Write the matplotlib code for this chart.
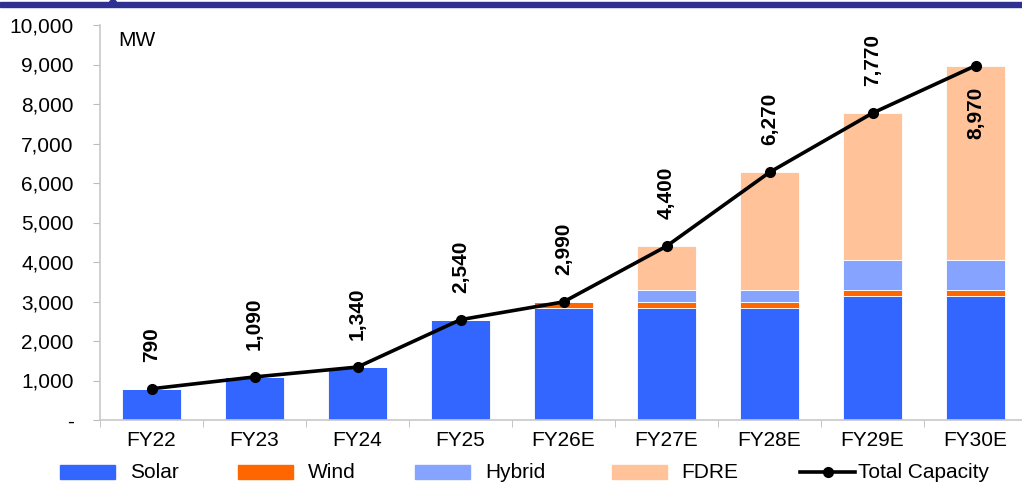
import matplotlib
matplotlib.use("Agg")
import matplotlib.pyplot as plt
from matplotlib.patches import Rectangle, Ellipse
from matplotlib.lines import Line2D
import numpy as np

plt.rcParams['font.family'] = ['Liberation Sans', 'DejaVu Sans']

years = ["FY22", "FY23", "FY24", "FY25", "FY26E", "FY27E", "FY28E", "FY29E", "FY30E"]
solar = [790, 1090, 1340, 2540, 2840, 2840, 2840, 3140, 3140]
wind = [0, 0, 0, 0, 150, 150, 150, 150, 150]
hybrid = [0, 0, 0, 0, 0, 300, 300, 750, 750]
fdre = [0, 0, 0, 0, 0, 1110, 2980, 3730, 4930]
total = [790, 1090, 1340, 2540, 2990, 4400, 6270, 7770, 8970]

c_solar = "#3366FF"
c_wind = "#FF6600"
c_hybrid = "#85A3FF"
c_fdre = "#FFC299"
navy = "#2E3192"

FS = 15

W, H = 1022, 482
fig = plt.figure(figsize=(W / 100, H / 100), dpi=100)
ax = fig.add_axes([100 / W, 1 - 420 / H, 927 / W, 395 / H])

x = np.arange(len(years))
bw = 0.57
edge = dict(edgecolor="white", linewidth=0.6)
s = np.array(solar, float)
w = np.array(wind, float)
h = np.array(hybrid, float)
f = np.array(fdre, float)
ax.bar(x, s, bw, color=c_solar, **edge)
ax.bar(x, w, bw, bottom=s, color=c_wind, **edge)
ax.bar(x, h, bw, bottom=s + w, color=c_hybrid, **edge)
ax.bar(x, f, bw, bottom=s + w + h, color=c_fdre, **edge)

ax.plot(x, total, color="black", lw=2.6, marker="o", ms=7, zorder=5)

for i, v in enumerate(total):
    if i == len(total) - 1:
        ax.annotate(f"{v:,}", (x[i], v), xytext=(0, -15), textcoords="offset points",
                    rotation=90, ha="center", va="top", fontsize=FS, fontweight="bold")
    else:
        ax.annotate(f"{v:,}", (x[i], v), xytext=(0, 19.5), textcoords="offset points",
                    rotation=90, ha="center", va="bottom", fontsize=FS, fontweight="bold")

ax.set_xlim(-0.5, len(years) - 0.5)
ax.set_ylim(0, 10000)
ax.set_yticks(np.arange(0, 10001, 1000))
ax.set_yticklabels(["-"] + [f"{v:,}" for v in range(1000, 10001, 1000)])
ax.set_xticks(x)
ax.set_xticklabels(years)
ax.set_xticks(np.arange(-0.5, len(years), 1), minor=True)
ax.tick_params(axis="x", which="major", length=0, pad=8, labelsize=FS)
ax.tick_params(axis="x", which="minor", length=5, color="#BBBBBB", direction="out")
ax.tick_params(axis="y", length=5, color="#BBBBBB", pad=14, labelsize=FS)

for side in ("top", "right"):
    ax.spines[side].set_visible(False)
for side in ("left", "bottom"):
    ax.spines[side].set_color("#C8C8C8")
    ax.spines[side].set_linewidth(1.2)

ax.text(18 / 927, 1 - 15 / 395, "MW", transform=ax.transAxes, fontsize=FS, va="center", ha="left")


def fx(px):
    return px / W


def fy(py):
    return 1 - py / H


# header rule with the tail of the heading glyph just above it
fig.patches.append(Rectangle((0, fy(7)), 1, 5 / H, transform=fig.transFigure,
                             color=navy, zorder=10))
fig.patches.append(Ellipse((fx(113), fy(3)), 7 / W, 6 / H, transform=fig.transFigure,
                           color=navy, zorder=10))

# legend row drawn in figure pixels
ly = 472
entries = [("Solar", c_solar, 60, 130), ("Wind", c_wind, 238, 308),
           ("Hybrid", c_hybrid, 415, 485), ("FDRE", c_fdre, 612, 681)]
for name, col, px, tx in entries:
    fig.patches.append(Rectangle((fx(px), fy(ly + 7)), fx(55), 14 / H,
                                 transform=fig.transFigure, color=col))
    fig.text(fx(tx), fy(ly), name, fontsize=FS, va="center", ha="left")
fig.add_artist(Line2D([fx(800), fx(855)], [fy(ly), fy(ly)], transform=fig.transFigure,
                      color="black", lw=2.6))
fig.add_artist(Line2D([fx(828)], [fy(ly)], transform=fig.transFigure,
                      color="black", marker="o", ms=7, lw=0))
fig.text(fx(858), fy(ly), "Total Capacity", fontsize=FS, va="center", ha="left")

fig.savefig("out.png", dpi=100)
